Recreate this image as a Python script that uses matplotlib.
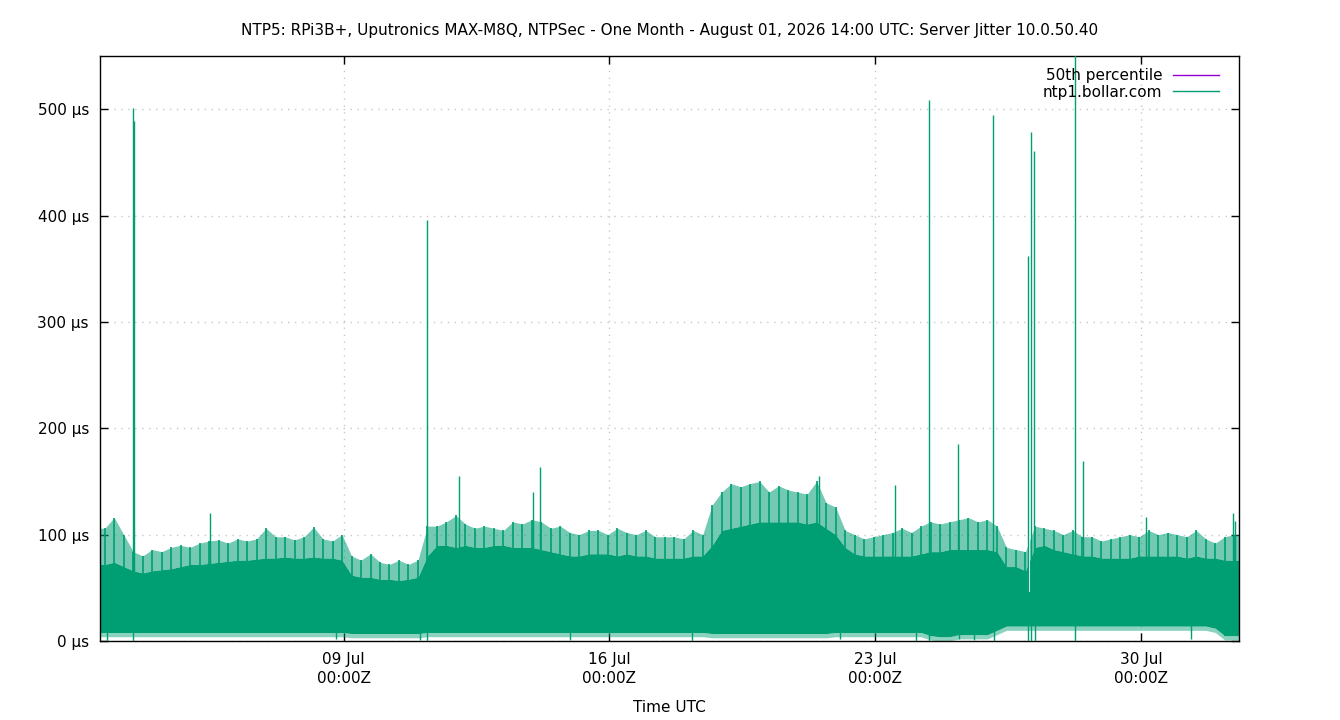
import numpy as np
import matplotlib
matplotlib.use("Agg")
import matplotlib.pyplot as plt
from matplotlib.lines import Line2D

# ── Data (µs) ─────────────────────────────────────────────────────────────────
START = np.datetime64("2026-07-02T14:00")
N_DAYS = 30

# one value per quarter day (6 h bins), 120 bins
# core = top of the solid band, peak = tallest ordinary spike in the bin
core = [72, 74, 70, 66,  64, 66, 67, 68,  70, 72, 72, 73,  74, 75, 76, 76,
        77, 78, 78, 79,  78, 78, 79, 78,  78, 76, 62, 60,  60, 58, 58, 57,
        58, 60, 80, 90,  90, 88, 90, 88,  88, 90, 90, 88,  88, 88, 86, 84,
        82, 80, 80, 82,  82, 82, 80, 82,  80, 80, 78, 78,  78, 78, 80, 80,
        90, 104, 106, 108,  110, 112, 112, 112,  112, 112, 110, 112,
        106, 100, 88, 82,  80, 80, 80, 80,  80, 80, 82, 84,  84, 86, 86, 86,
        86, 86, 84, 70,  70, 66, 88, 90,  86, 84, 82, 80,  80, 78, 78, 78,
        78, 80, 80, 80,  80, 80, 78, 80,  78, 78, 76, 76]

peak = [106, 116, 100, 84,  80, 86, 84, 88,  90, 88, 92, 94,  95, 92, 96, 94,
        96, 106, 98, 98,  95, 98, 107, 96,  94, 100, 80, 76,  82, 74, 72, 76,
        72, 76, 108, 108,  112, 118, 110, 106,  108, 106, 104, 112,
        110, 114, 112, 106,  108, 102, 100, 104,  104, 100, 106, 102,
        100, 104, 98, 98,  98, 96, 104, 100,  128, 140, 148, 145,
        148, 150, 140, 146,  142, 140, 138, 150,  130, 126, 104, 100,
        96, 98, 100, 102,  106, 102, 108, 112,  110, 112, 114, 116,
        112, 114, 108, 88,  86, 84, 108, 106,  104, 100, 104, 98,
        98, 94, 96, 98,  100, 98, 104, 100,  102, 100, 98, 104,  96, 92, 98, 100]

low = [8, 8, 8, 8,  8, 8, 8, 8,  8, 8, 8, 8,  8, 8, 8, 8,  8, 8, 8, 8,
       8, 8, 8, 8,  8, 8, 7, 7,  7, 7, 7, 7,  7, 7, 8, 8,  8, 8, 8, 8,
       8, 8, 8, 8,  8, 8, 8, 8,  8, 8, 8, 8,  8, 8, 8, 8,  8, 8, 8, 8,
       8, 8, 8, 8,  7, 7, 7, 7,  7, 7, 7, 7,  7, 7, 7, 7,  7, 8, 8, 8,
       8, 8, 8, 8,  8, 8, 8, 5,  4, 4, 6, 6,  6, 6, 10, 14,  14, 14, 14, 14,
       14, 14, 14, 14,  14, 14, 14, 14,  14, 14, 14, 14,  14, 14, 14, 14,
       14, 12, 5, 5]

# isolated spikes: offset in days from START, value µs
spike_day = [0.87, 0.90, 2.90, 8.61, 9.45, 11.40, 11.59, 18.94, 20.94, 21.83,
             22.60, 23.52, 24.44, 24.52, 24.60, 25.68, 25.89, 27.55, 29.84, 29.89]
spike_val = [501, 489, 120, 396, 155, 140, 164, 155, 147, 509,
             185, 495, 362, 479, 461, 560, 169, 117, 120, 113]

# samples that drop to near zero
dip_day = [0.18, 0.87, 6.22, 8.43, 8.61, 12.38, 15.59, 19.49, 21.49, 21.83,
           22.62, 23.02, 23.54, 24.44, 24.52, 24.62, 25.68, 28.73]
dip_val = [0, 0, 2, 1, 0, 1, 0, 2, 0, 0, 2, 1, 0, 0, 0, 0, 0, 2]

# short drop in the band top
notch_day = [24.47]
notch_val = [46]

median_us = 40

GREEN = "#009e73"
PURPLE = "#9400d3"

# ── Time axes ────────────────────────────────────────────────────────────────
HOUR = np.timedelta64(1, "h")
t_bins = START + (np.arange(len(core)) * 6 + 3) * HOUR
t_edges = START + np.arange(len(core) + 1) * 6 * HOUR


def to_time(days):
    return START + np.round(np.array(days) * 24 * 60).astype(int) * np.timedelta64(1, "m")


# ── Plot ─────────────────────────────────────────────────────────────────────
plt.rcParams["font.family"] = ["DejaVu Sans"]
fig = plt.figure(figsize=(13.4, 7.2), dpi=100)
ax = fig.add_axes([100 / 1340, 1 - 641 / 720, 1139 / 1340, 585 / 720])

ax.axhline(median_us, color=PURPLE, lw=1, zorder=1)

# solid band plus a lighter haze up to the spike tops
t_fill = np.r_[START, t_bins, t_edges[-1]]
core_f = np.r_[core[0], core, core[-1]]
peak_f = np.r_[peak[0], peak, peak[-1]]
low_f = np.r_[low[0], low, low[-1]]
ax.fill_between(t_fill, low_f, core_f, color=GREEN, lw=0, zorder=2)
ax.fill_between(t_fill, core_f, peak_f, color=GREEN, alpha=0.55, lw=0, zorder=2)
ax.fill_between(t_fill, np.array(low_f) - 4, low_f, color=GREEN, alpha=0.45, lw=0, zorder=2)
ax.vlines(t_bins, low, peak, color=GREEN, lw=1.2, zorder=2)

ax.vlines(to_time(spike_day), 20, spike_val, color=GREEN, lw=1.0, zorder=3)
ax.vlines(to_time(dip_day), dip_val, 20, color=GREEN, lw=1.0, zorder=3)
ax.vlines(to_time(notch_day), notch_val, 100, color="white", lw=1.5, zorder=2.5)

ax.set_xlim(START, START + np.timedelta64(N_DAYS, "D"))
ax.set_ylim(0, 550)

ax.set_yticks([0, 100, 200, 300, 400, 500])
ax.set_yticklabels([f"{v} µs" for v in [0, 100, 200, 300, 400, 500]])
ticks = [np.datetime64(d) for d in ["2026-07-09", "2026-07-16", "2026-07-23", "2026-07-30"]]
ax.set_xticks(ticks)
ax.set_xticklabels(["09 Jul\n00:00Z", "16 Jul\n00:00Z", "23 Jul\n00:00Z", "30 Jul\n00:00Z"],
                   linespacing=1.3)

ax.tick_params(direction="in", top=True, right=True, length=6, width=1,
               labelsize=11, pad=8)
ax.grid(True, color="#c8c8c8", linestyle=(0, (1, 4)), lw=1)
for s in ax.spines.values():
    s.set_linewidth(1)

ax.set_title("NTP5: RPi3B+, Uputronics MAX-M8Q, NTPSec - One Month - August 01, 2026 14:00 UTC: "
             "Server Jitter 10.0.50.40", fontsize=11, pad=15)
ax.set_xlabel("Time UTC", fontsize=11, labelpad=10)

handles = [Line2D([], [], color=PURPLE, lw=1), Line2D([], [], color=GREEN, lw=1)]
ax.legend(handles, ["50th percentile", "ntp1.bollar.com"], loc="upper right",
          bbox_to_anchor=(0.9877, 0.9897), borderaxespad=0,
          markerfirst=False, frameon=False, fontsize=11, handlelength=3.0,
          handletextpad=0.7, labelspacing=0.1)

fig.savefig("out.png", dpi=100)
